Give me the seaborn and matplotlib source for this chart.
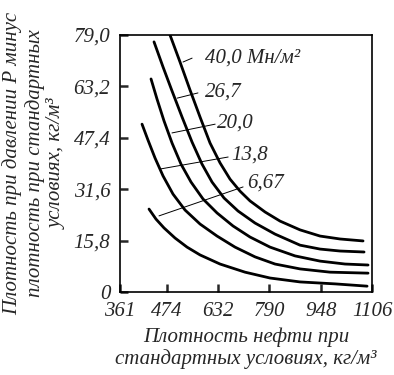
import pandas as pd
import seaborn as sns
import matplotlib.pyplot as plt

# Oil density at standard conditions (kg/m3) vs. density at pressure P
# minus density at standard conditions (kg/m3), one curve per pressure
pressures = ['6,67', '13,8', '20,0', '26,7', '40,0']

x_667 = [419.3, 440.9, 465.5, 499.4, 536.4, 576.4, 638.0, 715.0, 792.0, 884.4, 992.2, 1090.8]
y_667 = [25.5, 22.4, 19.7, 16.6, 13.8, 11.4, 8.6, 6.1, 4.3, 3.1, 2.5, 1.8]

x_138 = [397.8, 416.2, 437.8, 462.4, 493.2, 530.2, 576.4, 628.8, 684.2, 745.8, 807.4, 884.4, 976.8, 1093.8]
y_138 = [51.6, 46.7, 41.2, 35.7, 30.1, 25.2, 20.9, 17.2, 13.8, 10.8, 8.6, 7.1, 6.1, 5.8]

x_200 = [425.5, 444.0, 465.5, 490.2, 517.9, 548.7, 585.6, 628.8, 678.0, 730.4, 792.0, 869.0, 946.0, 1023.0, 1093.8]
y_200 = [65.5, 59.3, 52.6, 45.8, 39.3, 33.8, 28.6, 24.3, 20.3, 16.9, 13.8, 11.1, 9.5, 8.6, 8.3]

x_267 = [434.7, 462.4, 490.2, 521.0, 551.8, 582.6, 613.4, 650.3, 693.4, 745.8, 807.4, 884.4, 946.0, 1007.6, 1081.5]
y_267 = [76.9, 69.2, 61.8, 53.8, 46.1, 39.3, 33.8, 28.9, 24.9, 21.2, 17.8, 14.4, 13.2, 12.6, 12.3]

x_400 = [484.0, 514.8, 545.6, 576.4, 607.2, 638.0, 668.8, 699.6, 730.4, 776.6, 822.8, 884.4, 946.0, 1007.6, 1078.4]
y_400 = [79.0, 70.7, 62.1, 53.8, 45.8, 39.7, 34.7, 31.0, 28.0, 24.6, 21.8, 19.1, 17.2, 16.3, 15.7]

x_tick_labels = ['361', '474', '632', '790', '948', '1106']
y_tick_labels = ['0', '15,8', '31,6', '47,4', '63,2', '79,0']

curves = [(x_667, y_667), (x_138, y_138), (x_200, y_200), (x_267, y_267), (x_400, y_400)]
frames = []
for p, (xs, ys) in zip(pressures, curves):
    frames.append(pd.DataFrame({'rho0': xs, 'drho': ys, 'p': p}))
df = pd.concat(frames, ignore_index=True)

sns.set_style('ticks')
plt.rcParams['font.family'] = ['Liberation Serif', 'DejaVu Serif']
plt.rcParams['font.style'] = 'italic'
plt.rcParams['font.size'] = 15

fig = plt.figure(figsize=(3.94, 3.75), dpi=100)
ax = fig.add_axes([0.3046, 0.2213, 0.6396, 0.6853])

sns.lineplot(data=df, x='rho0', y='drho', hue='p', palette=['black'] * 5,
             sort=False, estimator=None, linewidth=2.0, legend=False, ax=ax)
for line in ax.get_lines():
    line.set_solid_joinstyle('round')

# leader lines and curve labels
leader_start = [(450, 23.4), (453, 37.8), (490, 48.9), (506, 59.6), (524, 70.7)]
leader_end = [(709, 32.3), (663, 41.5), (623, 51.6), (570, 61.2), (552, 71.9)]
label_pos = [(722, 33.6), (673, 42.2), (630, 51.8), (592, 61.4), (592, 71.8)]
label_text = ['6,67', '13,8', '20,0', '26,7', '40,0 Мн/м²']
for s, e, pos, t in zip(leader_start, leader_end, label_pos, label_text):
    ax.plot([s[0], e[0]], [s[1], e[1]], color='black', lw=0.7)
    ax.text(pos[0], pos[1], t, ha='left', va='center', fontsize=15)

ax.set_xlim(330, 1106)
ax.set_ylim(0, 79)
ax.set_xticks([330, 474, 632, 790, 948, 1106], x_tick_labels)
ax.set_yticks([0, 15.8, 31.6, 47.4, 63.2, 79.0], y_tick_labels)
ax.tick_params(direction='in', length=6, width=1.8, pad=7, labelsize=15)
for sp in ax.spines.values():
    sp.set_visible(True)
    sp.set_linewidth(1.2)
    sp.set_color('black')

ax.set_xlabel('Плотность нефти при\nстандартных условиях, кг/м³', fontsize=15,
              linespacing=1.15, labelpad=5)
ax.set_ylabel('Плотность при давлении Р минус\nплотность при стандартных\nусловиях, кг/м³',
              fontsize=15, linespacing=1.18, labelpad=5)

fig.savefig('out.png', dpi=100)
